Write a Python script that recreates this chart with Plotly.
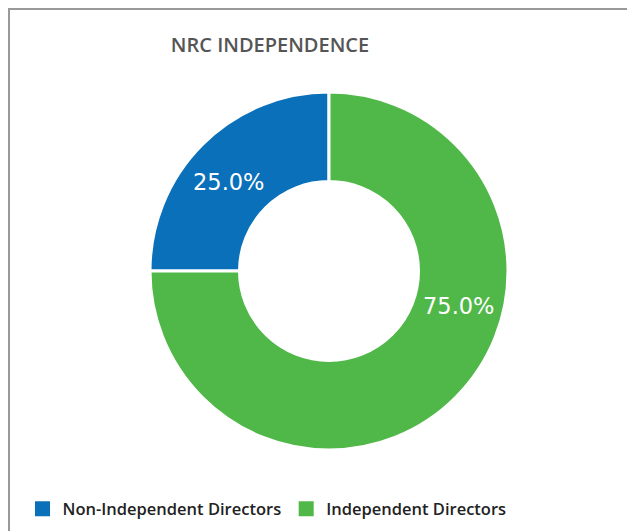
import math
import plotly.graph_objects as go

categories = ["Non-Independent Directors", "Independent Directors"]
values = [25.0, 75.0]
colors = ["#0a70b9", "#50b848"]
title_text = "NRC INDEPENDENCE"

W, H = 635, 531
OFF = 8  # page body margin offset
cx, cy, R = 329 - OFF, 271 - OFF, 179
HOLE = 0.5
START_DEG = 270          # first slice starts at 9 o'clock, going clockwise
LABEL_POS = [0.46, 0.39]  # where within each slice the label sits (fraction of its sweep)


def px(x):
    return x / W


def py(y):
    return 1 - y / H


fig = go.Figure()
fig.add_trace(go.Pie(
    labels=categories,
    values=values,
    hole=HOLE,
    sort=False,
    direction="clockwise",
    rotation=START_DEG,
    marker=dict(colors=colors, line=dict(color="white", width=3)),
    textinfo="none",
    domain=dict(x=[px(cx - R), px(cx + R)], y=[py(cy + R), py(cy - R)]),
    hoverinfo="label+percent",
    showlegend=False,
))

# percentage labels placed inside each slice (computed from the data)
total = sum(values)
cum = 0.0
r_lab = R * (1 + HOLE) / 2
annotations = []
for v, f in zip(values, LABEL_POS):
    frac = v / total
    theta = math.radians(START_DEG + (cum + f * frac) * 360)
    lx = cx + r_lab * math.sin(theta)
    ly = cy - r_lab * math.cos(theta)
    annotations.append(dict(
        text=f"{frac * 100:.1f}%", x=px(lx), y=py(ly), xref="paper", yref="paper",
        xanchor="center", yanchor="middle", showarrow=False,
        font=dict(color="white", size=22.5, family="DejaVu Sans"),
    ))
    cum += frac

for name, col in zip(categories, colors):
    fig.add_trace(go.Scatter(
        x=[None], y=[None], mode="markers", name=name,
        marker=dict(symbol="square", size=15, color=col),
        showlegend=True,
    ))

fig.update_layout(
    width=W, height=H,
    margin=dict(l=0, r=0, t=0, b=0),
    paper_bgcolor="white",
    plot_bgcolor="white",
    xaxis=dict(visible=False),
    yaxis=dict(visible=False),
    title=dict(text=title_text, x=px(270 - OFF), xanchor="center", y=py(45 - OFF), yanchor="middle",
               font=dict(family="Open Sans", size=20, color="#555555", weight=600)),
    showlegend=True,
    legend=dict(orientation="h", x=px(267 - OFF), xanchor="center", y=py(509 - OFF), yanchor="middle",
                font=dict(family="Open Sans", size=16.5, color="#222222", weight=600),
                itemsizing="trace", traceorder="normal", itemwidth=30),
    annotations=annotations,
    shapes=[dict(type="rect", xref="paper", yref="paper",
                 x0=px(1), x1=1.2, y0=-0.2, y1=py(1),
                 line=dict(color="#999999", width=2), fillcolor="rgba(0,0,0,0)", layer="below")],
)

fig.write_html("out.html")
